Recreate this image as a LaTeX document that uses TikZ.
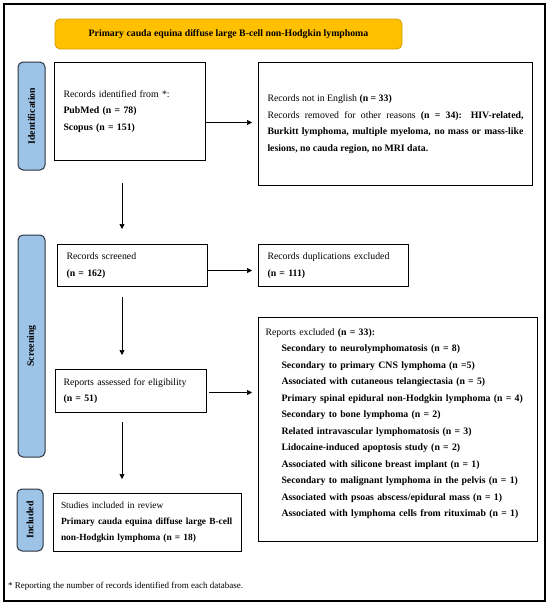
\documentclass[tikz,border=0pt]{standalone}
\usepackage{fontspec}
\setmainfont{Liberation Serif}
\usetikzlibrary{arrows.meta,positioning}

\definecolor{titleorange}{HTML}{FFC000}
\definecolor{titleedge}{HTML}{D49F00}
\definecolor{phaseblue}{HTML}{9DC3E6}
\definecolor{phaseedge}{HTML}{2B3540}

\newcommand{\exitem}[1]{\hspace*{16pt}\textbf{#1}\\}

\begin{document}
\begin{tikzpicture}[x=1pt, y=-1pt,
  every node/.style={font=\fontsize{9.8}{16.5}\selectfont},
  box/.style={draw, line width=1pt, anchor=north west, align=left, inner ysep=0pt},
  phase/.style={draw=phaseedge, fill=phaseblue, line width=1pt, rounded corners=5pt,
    rotate=90, inner sep=0pt, font=\fontsize{9.8}{11}\selectfont\bfseries},
  arr/.style={-{Triangle[length=5pt,width=5pt]}, line width=0.7pt}]

  \useasboundingbox (0,0) rectangle (550,606);
  \draw[line width=1.3pt] (4,4) rectangle (545,601);

  % Title of the review
  \node [draw=titleedge, fill=titleorange, line width=0.8pt, rounded corners=5pt,
    minimum width=347pt, minimum height=30pt,
    font=\fontsize{9.8}{11}\selectfont\bfseries] (title) at (228.5,34)
    {Primary cauda equina diffuse large B-cell non-Hodgkin lymphoma};

  % Identification
  \node [phase, minimum width=108pt, minimum height=27pt] (ident) at (31.5,116) {Identification};
  \node [box, text width=133pt, inner xsep=9pt, minimum height=98pt] (found) at (54,62)
    {Records identified from *:\\ \textbf{PubMed (n = 78)}\\ \textbf{Scopus (n = 151)}};
  \node [box, text width=256pt, inner xsep=9pt, minimum height=123pt, align=justify] (removed) at (258,62)
    {Records not in English \textbf{(n = 33)}\\
     Records removed for other reasons \textbf{(n = 34): HIV-related,\linebreak
     Burkitt lymphoma, multiple myeloma, no mass or mass-like\linebreak
     lesions, no cauda region, no MRI data.}};

  % Screening
  \node [phase, minimum width=222pt, minimum height=27pt] (screen) at (31.5,346) {Screening};
  \node [box, text width=132pt, inner xsep=9pt, minimum height=42pt] (screened) at (57,244)
    {Records screened\\ \textbf{(n = 162)}};
  \node [box, text width=132pt, inner xsep=9pt, minimum height=42pt] (dupl) at (258,244)
    {Records duplications excluded\\ \textbf{(n = 111)}};
  \node [box, text width=135pt, inner xsep=8pt, minimum height=43pt] (assessed) at (55,369)
    {Reports assessed for eligibility\\ \textbf{(n = 51)}};
  \node [box, text width=265pt, inner xsep=7pt, minimum height=224pt] (excluded) at (258,317)
    {Reports excluded \textbf{(n = 33):}\\
     \exitem{Secondary to neurolymphomatosis (n = 8)}
     \exitem{Secondary to primary CNS lymphoma (n =5)}
     \exitem{Associated with cutaneous telangiectasia (n = 5)}
     \exitem{Primary spinal epidural non-Hodgkin lymphoma (n = 4)}
     \exitem{Secondary to bone lymphoma (n = 2)}
     \exitem{Related intravascular lymphomatosis (n = 3)}
     \exitem{Lidocaine-induced apoptosis study (n = 2)}
     \exitem{Associated with silicone breast implant (n = 1)}
     \exitem{Secondary to malignant lymphoma in the pelvis (n = 1)}
     \exitem{Associated with psoas abscess/epidural mass (n = 1)}
     \hspace*{16pt}\textbf{Associated with lymphoma cells from rituximab (n = 1)}\\[-8pt]
     \strut};

  % Included
  \node [phase, minimum width=62pt, minimum height=26pt] (incl) at (30,520) {Included};
  \node [box, text width=181pt, inner xsep=3.5pt, minimum height=58pt,
    font=\fontsize{9.4}{16}\selectfont] (studies) at (53,493)
    {\hspace*{4pt}Studies included in review\\
     \hspace*{4pt}\mbox{\textbf{Primary cauda equina diffuse large B-cell}}\\
     \hspace*{4pt}\textbf{non-Hodgkin lymphoma (n = 18)}};

  \node [anchor=west, inner sep=0pt, font=\fontsize{9}{10}\selectfont] (note) at (8,586)
    {* Reporting the number of records identified from each database.};

  % connectors
  \coordinate (spine) at (122,0);
  \coordinate (f1) at ([yshift=-11pt]found.east);
  \coordinate (s1) at ([yshift=-5pt]screened.east);
  \coordinate (a1) at ([yshift=-1.5pt]assessed.east);

  \draw[arr, shorten >=6pt] (f1) -- (f1 -| removed.west);
  \draw[arr, shorten >=6pt] (s1) -- (s1 -| dupl.west);
  \draw[arr, shorten <=2pt, shorten >=6pt] (a1) -- (a1 -| excluded.west);

  \draw[arr, shorten <=22pt, shorten >=15pt] (found.south -| spine) -- (screened.north -| spine);
  \draw[arr, shorten <=10pt, shorten >=14pt] (screened.south -| spine) -- (assessed.north -| spine);
  \draw[arr, shorten <=9pt, shorten >=14pt] (assessed.south -| spine) -- (studies.north -| spine);
\end{tikzpicture}
\end{document}
